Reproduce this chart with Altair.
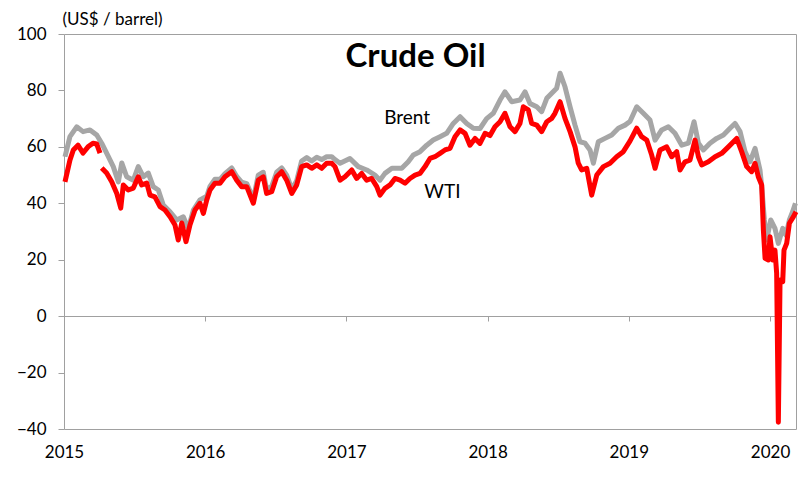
import altair as alt
import pandas as pd

# ---- data (decimal years, US$ / barrel) ----
wti_t_a = [2015.007, 2015.042, 2015.066, 2015.099, 2015.135, 2015.170, 2015.205, 2015.232, 2015.255]
wti_v_a = [47.6, 55.3, 58.9, 60.6, 57.8, 60.0, 61.3, 61.0, 57.8]

wti_t_2015 = [2015.267, 2015.302, 2015.338, 2015.373, 2015.402, 2015.420, 2015.455, 2015.491, 2015.526, 2015.550,
              2015.586, 2015.609, 2015.644, 2015.680, 2015.715, 2015.751, 2015.786, 2015.809, 2015.834, 2015.864,
              2015.892, 2015.928, 2015.963, 2015.987]
wti_v_2015 = [52.5, 50.7, 47.6, 43.6, 38.3, 46.5, 44.7, 45.4, 49.4, 46.5,
              47.2, 42.9, 42.3, 38.8, 37.6, 35.2, 32.3, 27.0, 33.0, 26.4,
              32.3, 37.6, 40.0, 36.4]
wti_t_2016 = [2016.011, 2016.034, 2016.069, 2016.105, 2016.140, 2016.188, 2016.223, 2016.258, 2016.294, 2016.341,
              2016.376, 2016.411, 2016.435, 2016.471, 2016.506, 2016.542, 2016.577, 2016.613, 2016.648, 2016.683,
              2016.719, 2016.754, 2016.790, 2016.825, 2016.860, 2016.896, 2016.919, 2016.955, 2016.990]
wti_v_2016 = [41.2, 44.7, 47.1, 47.1, 49.4, 51.2, 48.2, 45.9, 45.9, 40.0,
              48.2, 49.4, 43.5, 44.1, 49.4, 51.2, 48.2, 43.5, 46.5, 53.0,
              53.6, 52.4, 53.6, 52.4, 54.2, 54.2, 53.0, 48.2, 49.4]
wti_t_2017 = [2017.038, 2017.073, 2017.108, 2017.144, 2017.179, 2017.215, 2017.238, 2017.273, 2017.309, 2017.344,
              2017.380, 2017.415, 2017.450, 2017.486, 2017.521, 2017.557, 2017.592, 2017.627, 2017.663, 2017.698,
              2017.734, 2017.769, 2017.805, 2017.840, 2017.875, 2017.911, 2017.946, 2017.982]
wti_v_2017 = [51.8, 48.8, 50.6, 48.2, 48.8, 45.9, 42.9, 45.3, 46.5, 48.8,
              48.2, 47.1, 48.8, 50.0, 50.6, 53.0, 55.9, 56.5, 57.7, 58.9,
              59.5, 63.6, 66.0, 64.8, 60.6, 63.0, 61.2, 64.8]
wti_t_2018 = [2018.017, 2018.052, 2018.088, 2018.123, 2018.159, 2018.194, 2018.229, 2018.253, 2018.288, 2018.312,
              2018.348, 2018.383, 2018.419, 2018.454, 2018.477, 2018.513, 2018.548, 2018.584, 2018.619, 2018.642,
              2018.666, 2018.702, 2018.737, 2018.773, 2018.820, 2018.867, 2018.914, 2018.961]
wti_v_2018 = [64.0, 67.1, 68.9, 71.9, 67.1, 65.4, 68.3, 74.2, 73.1, 68.3,
              67.7, 65.4, 68.9, 70.1, 71.9, 76.0, 70.1, 65.4, 60.0, 54.2,
              51.8, 52.4, 42.9, 50.0, 53.0, 54.2, 56.5, 58.3]
wti_t_2019 = [2019.008, 2019.056, 2019.091, 2019.127, 2019.162, 2019.186, 2019.221, 2019.268, 2019.304, 2019.339,
              2019.363, 2019.398, 2019.433, 2019.469, 2019.493, 2019.516, 2019.563, 2019.611, 2019.658, 2019.705,
              2019.764, 2019.799, 2019.835, 2019.870, 2019.894, 2019.917, 2019.941, 2019.953, 2019.965, 2019.988]
wti_v_2019 = [62.0, 66.6, 63.6, 62.4, 57.1, 52.4, 58.9, 60.0, 56.5, 58.3,
              51.8, 54.7, 55.3, 62.4, 56.5, 53.6, 54.7, 56.5, 57.7, 60.0,
              63.0, 58.3, 53.0, 51.2, 54.2, 49.4, 46.5, 30.5, 20.5, 19.9]
wti_t_2020 = [2020.000, 2020.019, 2020.035, 2020.047, 2020.059, 2020.071, 2020.090, 2020.099, 2020.118, 2020.137,
              2020.165, 2020.184]
wti_v_2020 = [28.1, 19.9, 23.4, 15.2, -37.6, 12.8, 12.2, 23.4, 25.8, 32.9,
              35.2, 37.0]

brent_t_2015 = [2015.007, 2015.042, 2015.090, 2015.135, 2015.184, 2015.232, 2015.267, 2015.302, 2015.349, 2015.385,
                2015.409, 2015.444, 2015.491, 2015.526, 2015.562, 2015.597, 2015.632, 2015.668, 2015.703, 2015.751,
                2015.798, 2015.845, 2015.880, 2015.916, 2015.963]
brent_v_2015 = [56.5, 63.6, 67.1, 65.4, 66.0, 64.2, 61.3, 57.8, 53.0, 47.6,
                54.3, 49.4, 48.2, 53.0, 49.4, 50.7, 45.9, 44.7, 39.4, 37.0,
                34.1, 35.2, 31.0, 37.6, 41.2]
brent_t_2016 = [2016.011, 2016.034, 2016.069, 2016.105, 2016.140, 2016.188, 2016.223, 2016.258, 2016.294, 2016.341,
                2016.376, 2016.411, 2016.435, 2016.471, 2016.506, 2016.542, 2016.577, 2016.613, 2016.648, 2016.683,
                2016.719, 2016.754, 2016.790, 2016.825, 2016.860, 2016.896, 2016.919, 2016.955]
brent_v_2016 = [42.5, 46.0, 48.5, 48.5, 50.5, 52.5, 49.5, 47.5, 47.0, 41.5,
                50.0, 51.0, 45.0, 46.0, 51.0, 52.5, 50.0, 45.0, 48.0, 55.0,
                56.2, 55.0, 56.3, 55.5, 56.5, 56.5, 55.5, 54.2]
brent_t_2017 = [2017.025, 2017.084, 2017.144, 2017.202, 2017.238, 2017.273, 2017.322, 2017.392, 2017.438, 2017.474,
                2017.521, 2017.569, 2017.615, 2017.663, 2017.710, 2017.757, 2017.805, 2017.852, 2017.899, 2017.946,
                2017.993]
brent_v_2017 = [55.9, 53.0, 51.8, 50.0, 48.2, 50.6, 52.4, 52.4, 54.7, 57.1,
                58.3, 60.6, 62.4, 63.6, 64.8, 68.3, 70.7, 68.3, 66.6, 66.5,
                70.0]
brent_t_2018 = [2018.040, 2018.088, 2018.123, 2018.170, 2018.229, 2018.265, 2018.300, 2018.348, 2018.383, 2018.419,
                2018.454, 2018.489, 2018.513, 2018.548, 2018.584, 2018.619, 2018.654, 2018.690, 2018.725, 2018.749,
                2018.784, 2018.831, 2018.879, 2018.926, 2018.973]
brent_v_2018 = [71.9, 76.6, 79.5, 76.0, 76.6, 79.5, 75.4, 74.2, 72.5, 77.2,
                79.0, 80.8, 86.1, 81.3, 74.2, 67.7, 61.8, 61.3, 58.9, 54.2,
                61.8, 63.0, 64.2, 66.6, 67.7]
brent_t_2019 = [2019.008, 2019.056, 2019.103, 2019.150, 2019.186, 2019.233, 2019.280, 2019.327, 2019.375, 2019.422,
                2019.462, 2019.493, 2019.528, 2019.575, 2019.622, 2019.670, 2019.717, 2019.752, 2019.788, 2019.823,
                2019.858, 2019.894, 2019.929, 2019.943, 2019.960, 2019.976]
brent_v_2019 = [69.0, 74.2, 71.9, 69.5, 62.4, 66.0, 67.1, 64.8, 60.6, 61.3,
                68.9, 61.3, 58.9, 61.3, 63.0, 64.2, 66.6, 68.3, 65.4, 58.3,
                54.7, 59.5, 51.8, 45.0, 34.1, 27.0]
brent_t_2020 = [2020.005, 2020.035, 2020.059, 2020.090, 2020.113, 2020.137, 2020.160, 2020.180]
brent_v_2020 = [34.1, 31.1, 25.8, 31.1, 28.7, 34.1, 37.0, 40.0]

year_ticks = [2015, 2016, 2017, 2018, 2019, 2020]
y_ticks = [-40, -20, 0, 20, 40, 60, 80, 100]

# ---- tables ----
wti_rest_t = wti_t_2015 + wti_t_2016 + wti_t_2017 + wti_t_2018 + wti_t_2019 + wti_t_2020
wti_rest_v = wti_v_2015 + wti_v_2016 + wti_v_2017 + wti_v_2018 + wti_v_2019 + wti_v_2020
wti = pd.DataFrame({
    "t": wti_t_a + wti_rest_t,
    "v": wti_v_a + wti_rest_v,
    "seg": [1] * len(wti_t_a) + [2] * len(wti_rest_t),
})
brent = pd.DataFrame({
    "t": brent_t_2015 + brent_t_2016 + brent_t_2017 + brent_t_2018 + brent_t_2019 + brent_t_2020,
    "v": brent_v_2015 + brent_v_2016 + brent_v_2017 + brent_v_2018 + brent_v_2019 + brent_v_2020,
})

FONT = "Lato"
xscale = alt.Scale(domain=[2015, 2020.184], nice=False, zero=False)
yscale = alt.Scale(domain=[-40, 100], nice=False, zero=False)

x_axis = alt.Axis(values=year_ticks, format="d", orient="bottom", offset=-113,
                  labelPadding=123, tickSize=5, tickColor="#A0A0A0",
                  domainColor="#A0A0A0", domainWidth=1, grid=False, title=None,
                  labelFlush=False, labelOverlap=False,
                  labelFont=FONT, labelFontSize=17, labelColor="#000000")
y_axis = alt.Axis(values=y_ticks, tickSize=6, tickColor="#A0A0A0", domain=False,
                  grid=False, labelPadding=12, labelFont=FONT, labelFontSize=17,
                  labelColor="#000000", labelFlush=False,
                  title="(US$ / barrel)", titleAngle=0, titleX=-2, titleY=-15,
                  titleAlign="left", titleBaseline="middle", titleFont=FONT,
                  titleFontSize=17, titleFontWeight="normal", titleColor="#000000")

brent_line = alt.Chart(brent).mark_line(color="#A6A6A6", strokeWidth=5, strokeJoin="round").encode(
    x=alt.X("t:Q", scale=xscale, axis=x_axis),
    y=alt.Y("v:Q", scale=yscale, axis=y_axis),
)
wti_line = alt.Chart(wti).mark_line(color="#FF0000", strokeWidth=5, strokeJoin="round").encode(
    x=alt.X("t:Q", scale=xscale),
    y=alt.Y("v:Q", scale=yscale),
    detail="seg:N",
)

title_df = pd.DataFrame({"t": [2017.49], "v": [91.8], "label": ["Crude Oil"]})
title_text = alt.Chart(title_df).mark_text(font=FONT, fontSize=33, fontWeight="bold", color="#000000").encode(
    x=alt.X("t:Q", scale=xscale), y=alt.Y("v:Q", scale=yscale), text="label:N")

lab_df = pd.DataFrame({"t": [2017.43, 2017.68], "v": [70.2, 44.1], "label": ["Brent", "WTI"]})
lab_text = alt.Chart(lab_df).mark_text(font=FONT, fontSize=19, color="#000000").encode(
    x=alt.X("t:Q", scale=xscale), y=alt.Y("v:Q", scale=yscale), text="label:N")

chart = alt.layer(brent_line, wti_line, title_text, lab_text).properties(
    width=732, height=395,
    autosize=alt.AutoSizeParams(type="none"),
    padding={"left": 56, "top": 26, "right": 6, "bottom": 43},
).configure_view(stroke="#A0A0A0", strokeWidth=1)

chart.save("out.html", embed_options={"renderer": "svg", "actions": False})
